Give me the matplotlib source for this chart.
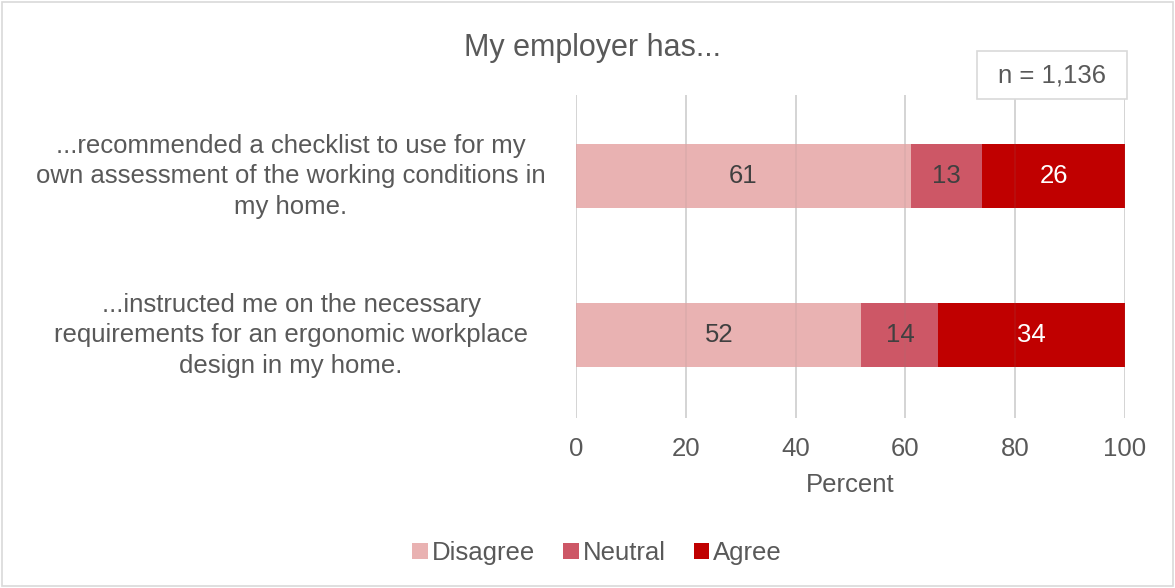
import matplotlib.pyplot as plt
from matplotlib.patches import Rectangle
from matplotlib.transforms import blended_transform_factory

plt.rcParams['font.family'] = ['Liberation Sans', 'DejaVu Sans']

statements = [
    "...recommended a checklist to use for my\nown assessment of the working conditions in\nmy home.",
    "...instructed me on the necessary\nrequirements for an ergonomic workplace\ndesign in my home.",
]
responses = ["Disagree", "Neutral", "Agree"]
disagree = [61, 52]
neutral = [13, 14]
agree = [26, 34]
colors = ["#E9B2B2", "#CD5766", "#C00000"]
label_colors = ["#404040", "#404040", "#FFFFFF"]
x_ticks = [0, 20, 40, 60, 80, 100]

TEXT = "#595959"
FS = 18.5

fig = plt.figure(figsize=(11.75, 5.88), dpi=100)
ax = fig.add_axes([576 / 1175, 1 - 418 / 588, 549 / 1175, 323 / 588])

ypos = [1, 0]
left = [0, 0]
for name, vals, col, lc in zip(responses, [disagree, neutral, agree], colors, label_colors):
    bars = ax.barh(ypos, vals, left=left, height=0.4, color=col, label=name, zorder=2)
    for b, v in zip(bars, vals):
        ax.text(b.get_x() + b.get_width() / 2, b.get_y() + b.get_height() / 2, f"{v}",
                ha="center", va="center", fontsize=FS, color=lc, zorder=4)
    left = [l + v for l, v in zip(left, vals)]

ax.set_xlim(0, 100)
ax.set_ylim(-0.52, 1.51)
ax.set_xticks(x_ticks)
ax.xaxis.grid(True, color="#D9D9D9", linewidth=1.2, zorder=0)
for x in x_ticks:
    ax.axvline(x, color="#808080", alpha=0.12, linewidth=1.2, zorder=3)
ax.set_yticks([])
for s in ax.spines.values():
    s.set_visible(False)
ax.tick_params(axis="x", length=0, labelsize=FS, labelcolor=TEXT, pad=14)
ax.set_xlabel("Percent", fontsize=FS, color=TEXT, labelpad=8)

trans = blended_transform_factory(fig.transFigure, ax.transData)
for y, s in zip(ypos, statements):
    ax.text(291 / 1175, y, s, transform=trans, ha="center", va="center",
            multialignment="center", fontsize=FS, color=TEXT, linespacing=1.34)

fig.text(592 / 1175, 1 - 48 / 588, "My employer has...", ha="center", va="center",
         fontsize=22, color=TEXT)

# sample-size box
fig.add_artist(Rectangle((977 / 1175, 1 - 99 / 588), 150 / 1175, 48 / 588,
                         transform=fig.transFigure, facecolor="white",
                         edgecolor="#D9D9D9", linewidth=1.2, zorder=5))
fig.text(1052 / 1175, 1 - 75 / 588, "n = 1,136", ha="center", va="center",
         fontsize=FS, color=TEXT, zorder=6)

fig.legend(loc="center", bbox_to_anchor=(597 / 1175, 1 - 553 / 588), ncol=3, frameon=False,
           fontsize=FS, labelcolor=TEXT, handlelength=0.6, handleheight=0.6,
           handletextpad=0.15, columnspacing=1.1)

fig.add_artist(Rectangle((0.002, 0.003), 0.996, 0.994, transform=fig.transFigure,
                         fill=False, edgecolor="#D9D9D9", linewidth=1.2))

fig.savefig("out.png", dpi=100, facecolor="white")
